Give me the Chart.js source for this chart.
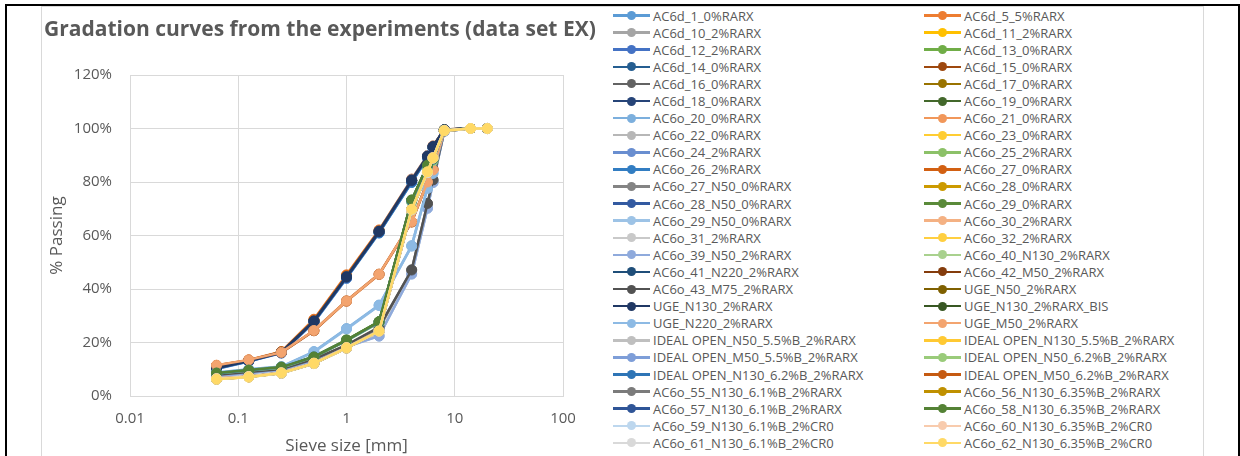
<!DOCTYPE html>
<html>
<head>
<meta charset="utf-8">
<script src="https://cdn.jsdelivr.net/npm/chart.js@4.4.0/dist/chart.umd.min.js"></script>
<style>
  html, body { margin: 0; padding: 0; background: #fff; }
  body { width: 1240px; height: 456px; position: relative; overflow: hidden; font-family: 'Open Sans', sans-serif; }
  #outer { position: absolute; left: 5px; top: 4px; width: 1235px; height: 470px; box-sizing: border-box; border: 2px solid #000; border-bottom: none; }
  #frame { position: absolute; left: 41px; top: 6px; width: 1163px; height: 470px; box-sizing: border-box; border: 1px solid #d9d9d9; border-bottom: none; }
  #plot { position: absolute; left: 0; top: 0; width: 610px; height: 456px; }
  #title { position: absolute; left: 44px; top: 14px; height: 28px; line-height: 28px; font-size: 21px; font-weight: bold; color: #595959; white-space: nowrap; }
  #legend { position: absolute; left: 613px; top: 7px; display: grid; grid-template-columns: 311px 311px; grid-auto-rows: 17.1px; }
  .item { display: flex; align-items: center; white-space: nowrap; font-size: 13px; color: #595959; }
  .icon { position: relative; width: 37px; height: 17px; flex: none; margin-right: 3px; }
  .icon .ln { position: absolute; left: 0; right: 0; top: 7.25px; height: 2.5px; }
  .icon .dot { position: absolute; left: 14px; top: 4px; width: 9px; height: 9px; border-radius: 50%; }
</style>
</head>
<body>
<div id="outer"></div>
<div id="frame"></div>
<div id="plot"><canvas id="gradation"></canvas></div>
<div id="title">Gradation curves from the experiments (data set EX)</div>
<div id="legend"></div>
<script>
// sieve openings in mm
const sieveSizes = [0.063, 0.125, 0.25, 0.5, 1, 2, 4, 5.6, 6.3, 8, 14, 20];
const xTicks = [0.01, 0.1, 1, 10, 100];

const mixNames = [
  'AC6d_1_0%RARX', 'AC6d_5_5%RARX',
  'AC6d_10_2%RARX', 'AC6d_11_2%RARX',
  'AC6d_12_2%RARX', 'AC6d_13_0%RARX',
  'AC6d_14_0%RARX', 'AC6d_15_0%RARX',
  'AC6d_16_0%RARX', 'AC6d_17_0%RARX',
  'AC6d_18_0%RARX', 'AC6o_19_0%RARX',
  'AC6o_20_0%RARX', 'AC6o_21_0%RARX',
  'AC6o_22_0%RARX', 'AC6o_23_0%RARX',
  'AC6o_24_2%RARX', 'AC6o_25_2%RARX',
  'AC6o_26_2%RARX', 'AC6o_27_0%RARX',
  'AC6o_27_N50_0%RARX', 'AC6o_28_0%RARX',
  'AC6o_28_N50_0%RARX', 'AC6o_29_0%RARX',
  'AC6o_29_N50_0%RARX', 'AC6o_30_2%RARX',
  'AC6o_31_2%RARX', 'AC6o_32_2%RARX',
  'AC6o_39_N50_2%RARX', 'AC6o_40_N130_2%RARX',
  'AC6o_41_N220_2%RARX', 'AC6o_42_M50_2%RARX',
  'AC6o_43_M75_2%RARX', 'UGE_N50_2%RARX',
  'UGE_N130_2%RARX', 'UGE_N130_2%RARX_BIS',
  'UGE_N220_2%RARX', 'UGE_M50_2%RARX',
  'IDEAL OPEN_N50_5.5%B_2%RARX', 'IDEAL OPEN_N130_5.5%B_2%RARX',
  'IDEAL OPEN_M50_5.5%B_2%RARX', 'IDEAL OPEN_N50_6.2%B_2%RARX',
  'IDEAL OPEN_N130_6.2%B_2%RARX', 'IDEAL OPEN_M50_6.2%B_2%RARX',
  'AC6o_55_N130_6.1%B_2%RARX', 'AC6o_56_N130_6.35%B_2%RARX',
  'AC6o_57_N130_6.1%B_2%RARX', 'AC6o_58_N130_6.35%B_2%RARX',
  'AC6o_59_N130_6.1%B_2%CR0', 'AC6o_60_N130_6.35%B_2%CR0',
  'AC6o_61_N130_6.1%B_2%CR0', 'AC6o_62_N130_6.35%B_2%CR0'
];

// % passing per mix, one row per mix, same order as mixNames
const passing = [
  [10.1, 12.9, 16.1, 27.5, 43.9, 60.9, 79.9, 89.0, 92.7, 99.3, 100, 100],
  [10.9, 13.5, 16.6, 28.7, 45.3, 62.1, 81.1, 89.9, 93.5, 99.6, 100, 100],
  [10.4, 13.1, 16.3, 27.9, 44.4, 61.3, 80.4, 89.3, 93.0, 99.5, 100, 100],
  [10.6, 13.3, 16.4, 28.2, 44.8, 61.6, 80.6, 89.5, 93.2, 99.5, 100, 100],
  [10.3, 13.0, 16.2, 27.8, 44.3, 61.2, 80.3, 89.2, 92.9, 99.4, 100, 100],
  [10.5, 13.2, 16.3, 28.0, 44.6, 61.5, 80.5, 89.4, 93.1, 99.5, 100, 100],
  [10.4, 13.2, 16.3, 28.1, 44.5, 61.4, 80.4, 89.5, 93.1, 99.5, 100, 100],
  [10.6, 13.3, 16.4, 28.1, 44.7, 61.6, 80.6, 89.6, 93.2, 99.6, 100, 100],
  [10.5, 13.2, 16.3, 28.0, 44.5, 61.5, 80.5, 89.5, 93.1, 99.5, 100, 100],
  [10.5, 13.3, 16.4, 28.1, 44.6, 61.5, 80.5, 89.5, 93.2, 99.5, 100, 100],
  [10.4, 13.1, 16.3, 28.0, 44.4, 61.4, 80.6, 89.6, 93.2, 99.5, 100, 100],
  [8.4, 9.6, 10.7, 14.6, 20.8, 27.6, 73.0, 86.0, 88.5, 99.3, 100, 100],
  [8.8, 10.0, 11.0, 16.6, 25.2, 34.0, 56.2, 78.0, 83.5, 99.2, 100, 100],
  [11.4, 13.4, 16.2, 24.4, 35.4, 45.4, 65.0, 80.0, 84.6, 99.2, 100, 100],
  [7.8, 8.8, 10.0, 13.6, 18.8, 25.0, 47.0, 71.5, 80.5, 99.0, 100, 100],
  [6.4, 7.2, 8.6, 12.2, 18.0, 24.2, 69.5, 83.5, 89.0, 99.2, 100, 100],
  [10.2, 13.0, 16.0, 27.5, 44.0, 61.8, 81.0, 89.8, 93.4, 99.6, 100, 100],
  [8.5, 9.7, 10.8, 14.8, 21.0, 27.8, 72.6, 85.6, 88.2, 99.2, 100, 100],
  [10.3, 13.1, 16.2, 27.7, 44.2, 61.0, 79.8, 89.0, 92.8, 99.4, 100, 100],
  [10.7, 13.4, 16.5, 28.4, 45.0, 61.8, 80.8, 89.6, 93.3, 99.5, 100, 100],
  [7.9, 8.9, 10.1, 13.8, 19.0, 25.4, 47.2, 71.8, 80.6, 99.0, 100, 100],
  [6.5, 7.3, 8.7, 12.3, 18.1, 24.3, 69.8, 83.6, 89.1, 99.2, 100, 100],
  [10.4, 13.1, 16.2, 27.9, 44.3, 61.3, 80.3, 89.4, 93.0, 99.5, 100, 100],
  [8.6, 9.7, 10.8, 14.7, 20.9, 27.7, 73.2, 86.2, 88.6, 99.3, 100, 100],
  [7.5, 8.5, 9.8, 13.3, 18.4, 22.4, 45.6, 70.2, 79.8, 99.0, 100, 100],
  [11.5, 13.5, 16.2, 24.5, 35.6, 45.6, 65.2, 80.2, 84.8, 99.3, 100, 100],
  [7.6, 8.6, 9.9, 13.4, 18.5, 22.6, 45.8, 70.5, 80.0, 99.0, 100, 100],
  [6.3, 7.1, 8.5, 12.1, 17.9, 24.1, 69.3, 83.3, 88.8, 99.2, 100, 100],
  [7.5, 8.5, 9.8, 13.3, 18.4, 22.4, 45.6, 70.2, 79.8, 99.0, 100, 100],
  [8.5, 9.6, 10.7, 14.5, 20.7, 27.5, 72.8, 85.8, 88.4, 99.3, 100, 100],
  [10.5, 13.2, 16.3, 28.0, 44.6, 61.6, 80.7, 89.6, 93.2, 99.5, 100, 100],
  [11.4, 13.4, 16.2, 24.4, 35.5, 45.5, 65.1, 80.1, 84.7, 99.2, 100, 100],
  [7.9, 9.0, 10.1, 13.8, 19.0, 25.8, 47.1, 72.0, 80.8, 99.1, 100, 100],
  [6.4, 7.2, 8.6, 12.2, 18.0, 24.3, 69.6, 83.6, 89.0, 99.2, 100, 100],
  [10.5, 13.2, 16.3, 28.0, 44.5, 61.5, 80.6, 89.6, 93.2, 99.5, 100, 100],
  [8.5, 9.6, 10.7, 14.6, 20.8, 27.7, 73.1, 86.0, 88.5, 99.3, 100, 100],
  [8.7, 9.9, 10.9, 16.4, 25.0, 33.8, 56.0, 77.6, 83.2, 99.2, 100, 100],
  [11.5, 13.5, 16.3, 24.5, 35.5, 45.5, 65.2, 80.0, 84.5, 99.2, 100, 100],
  [6.5, 7.3, 8.7, 12.4, 18.2, 24.4, 69.9, 83.8, 89.2, 99.3, 100, 100],
  [6.3, 7.1, 8.5, 12.1, 17.9, 24.2, 69.4, 83.4, 88.9, 99.2, 100, 100],
  [6.4, 7.2, 8.6, 12.3, 18.1, 24.3, 69.7, 83.7, 89.1, 99.2, 100, 100],
  [8.4, 9.5, 10.6, 14.5, 20.6, 27.4, 72.5, 85.5, 88.0, 99.2, 100, 100],
  [8.5, 9.6, 10.7, 14.6, 20.8, 27.6, 73.0, 86.0, 88.5, 99.3, 100, 100],
  [6.5, 7.2, 8.6, 12.2, 18.0, 24.2, 69.5, 83.5, 88.9, 99.2, 100, 100],
  [6.4, 7.3, 8.7, 12.3, 18.1, 24.4, 69.8, 83.7, 89.0, 99.3, 100, 100],
  [6.3, 7.2, 8.6, 12.2, 18.0, 24.3, 69.6, 83.6, 89.1, 99.2, 100, 100],
  [6.4, 7.2, 8.6, 12.2, 18.0, 24.3, 69.7, 83.6, 89.0, 99.2, 100, 100],
  [8.6, 9.7, 10.8, 14.6, 20.9, 27.8, 73.3, 86.3, 88.7, 99.4, 100, 100],
  [6.4, 7.2, 8.6, 12.2, 18.0, 24.2, 69.6, 83.5, 89.0, 99.2, 100, 100],
  [6.5, 7.3, 8.7, 12.3, 18.1, 24.3, 69.7, 83.7, 89.1, 99.3, 100, 100],
  [6.3, 7.1, 8.5, 12.1, 17.9, 24.2, 69.5, 83.5, 88.9, 99.2, 100, 100],
  [6.3, 7.1, 8.6, 12.2, 18.0, 24.3, 69.8, 83.8, 89.0, 99.2, 100, 100]
];

// office-style series colours
const seriesColors = [
  '#5B9BD5', '#ED7D31', '#A5A5A5', '#FFC000', '#4472C4', '#70AD47',
  '#255E91', '#9E480E', '#636363', '#997300', '#264478', '#43682B',
  '#7CAFDD', '#F1975A', '#B7B7B7', '#FFCD33', '#698ED0', '#8CC168',
  '#327DC2', '#D26012', '#848484', '#CC9A00', '#335AA1', '#5A8A39',
  '#9DC3E6', '#F4B183', '#C9C9C9', '#FFCF40', '#8FAADC', '#A9D18E',
  '#1F4E79', '#843C0C', '#525252', '#7F6000', '#203864', '#385723',
  '#8DBAE4', '#F3A46F', '#BFBFBF', '#FFC933', '#7E9ED8', '#9ACB7A',
  '#2E75B6', '#C55A11', '#7B7B7B', '#BF9000', '#2F5597', '#548235',
  '#BDD7EE', '#F8CBAD', '#D9D9D9', '#FFD966'
];

const textColor = '#595959';
const gridColor = '#d9d9d9';

const datasets = mixNames.map((name, i) => ({
  label: name,
  data: sieveSizes.map((s, k) => ({ x: s, y: passing[i][k] })),
  borderColor: seriesColors[i],
  backgroundColor: seriesColors[i],
  pointBackgroundColor: seriesColors[i],
  pointBorderColor: seriesColors[i],
  borderWidth: 2.5,
  pointRadius: 5,
  pointBorderWidth: 1,
  // later mixes sit on top
  order: mixNames.length - i
}));

const chart = new Chart(document.getElementById('gradation'), {
  type: 'line',
  data: { datasets: datasets },
  options: {
    responsive: true,
    maintainAspectRatio: false,
    animation: false,
    layout: { padding: { left: 44, right: 47, top: 75, bottom: 0 } },
    scales: {
      x: {
        type: 'logarithmic',
        min: 0.01,
        max: 100,
        afterBuildTicks: s => { s.ticks = xTicks.map(v => ({ value: v })); },
        afterFit: s => { s.height = 60; },
        ticks: {
          color: textColor,
          font: { family: 'Open Sans', size: 15 },
          padding: 14,
          maxRotation: 0,
          callback: v => String(v)
        },
        grid: { color: gridColor, drawTicks: false },
        border: { color: gridColor },
        title: {
          display: true,
          text: 'Sieve size [mm]',
          color: textColor,
          font: { family: 'Open Sans', size: 17, lineHeight: 1 },
          padding: { top: 0, bottom: 1 }
        }
      },
      y: {
        min: 0,
        max: 120,
        afterFit: s => { s.width = 86; },
        ticks: {
          stepSize: 20,
          color: textColor,
          font: { family: 'Open Sans', size: 15 },
          padding: 18,
          callback: v => v + '%'
        },
        grid: { color: gridColor, drawTicks: false },
        border: { color: gridColor },
        title: {
          display: true,
          text: '% Passing',
          color: textColor,
          font: { family: 'Open Sans', size: 17, lineHeight: 1 },
          padding: { top: 5, bottom: 0 }
        }
      }
    },
    plugins: {
      legend: { display: false },
      tooltip: { enabled: false }
    }
  }
});

// two-column legend, filled row by row like the series order
const legendBox = document.getElementById('legend');
chart.data.datasets.forEach(ds => {
  const item = document.createElement('div');
  item.className = 'item';
  item.innerHTML = '<span class="icon"><span class="ln"></span><span class="dot"></span></span>';
  item.querySelector('.ln').style.background = ds.borderColor;
  item.querySelector('.dot').style.background = ds.borderColor;
  const label = document.createElement('span');
  label.textContent = ds.label;
  item.appendChild(label);
  legendBox.appendChild(item);
});
</script>
</body>
</html>
